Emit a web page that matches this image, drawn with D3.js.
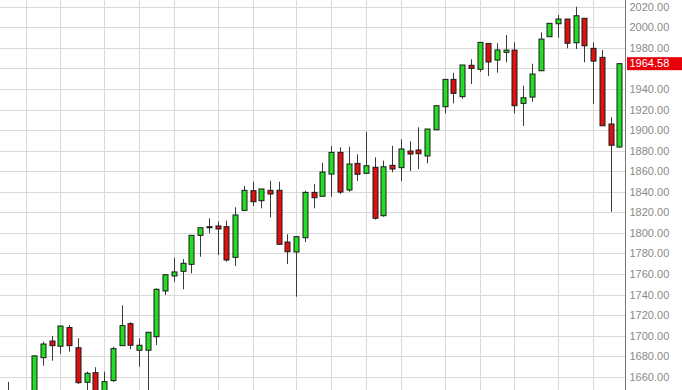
<!DOCTYPE html>
<html>
<head>
<meta charset="utf-8">
<script src="https://d3js.org/d3.v7.min.js"></script>
<style>
 body { margin: 0; background: #fff; }
 svg { display: block; font-family: "Liberation Sans", Arial, sans-serif; }
</style>
</head>
<body>
<svg id="chart" width="682" height="390"></svg>
<script>
 // weekly candles, first week starts Monday 2013-06-17
 var firstWeek = new Date(2013, 5, 17);

 var open  = [1640, 1592, 1609, 1634, 1678.6, 1694.8, 1689.7, 1707.9, 1688.3, 1654.7,
              1664, 1635, 1656.3, 1690.3, 1711.7, 1685.8, 1685.8, 1699, 1743.5, 1758.1,
              1762.6, 1769.4, 1797.6, 1806, 1806.7, 1806, 1776.2, 1821.9, 1841, 1831.3,
              1841.4, 1841.4, 1791.1, 1781.4, 1795.3, 1839.4, 1835.6, 1857.2, 1878.3, 1841.7,
              1867.6, 1857.9, 1863.8, 1816.7, 1865.7, 1863.4, 1879.6, 1880.6, 1874.8, 1900.3,
              1922.7, 1949.3, 1932.5, 1963, 1959.1, 1984.3, 1968.1, 1975.6, 1977.8, 1926,
              1932.1, 1957.7, 1990.8, 2003.4, 2008, 1984.9, 2008.7, 1979.5, 1970.7, 1905.9,
              1883.5];
 var high  = [1655, 1620, 1632, 1681, 1694.2, 1699.7, 1709.6, 1710.4, 1697.5, 1665,
              1669.3, 1665, 1689.3, 1729.6, 1713, 1697.5, 1703.5, 1746.1, 1759.5, 1775.8,
              1774.6, 1797.8, 1805.2, 1814.2, 1811.2, 1811.9, 1824.9, 1845.6, 1849.8, 1842.7,
              1850.7, 1849.8, 1798.6, 1796.3, 1841, 1847.5, 1868.2, 1884.5, 1883.2, 1883.8,
              1876.4, 1898.4, 1873.5, 1870.2, 1884.8, 1891, 1889, 1902.7, 1901, 1923.7,
              1949.3, 1955.8, 1963.3, 1968.8, 1985.3, 1984.3, 1984.4, 1992.4, 1985.3, 1943.1,
              1964.5, 1995, 2003.8, 2011.9, 2008, 2020, 2008.7, 1985.3, 1977.8, 1912.4,
              1964.58];
 var low   = [1578, 1573, 1605, 1632, 1670.8, 1675.7, 1682.2, 1684.4, 1653, 1640,
              1627, 1633, 1655, 1690, 1686.8, 1669.9, 1646, 1690.9, 1739.6, 1752.5,
              1745.1, 1760.7, 1776.8, 1799.6, 1778.5, 1772, 1767.8, 1821.5, 1826.1, 1823.9,
              1815.1, 1788.9, 1769.7, 1737.9, 1791.1, 1823.9, 1835.6, 1835.2, 1837.8, 1840,
              1850.4, 1857.9, 1813, 1815.7, 1858.9, 1850.4, 1860.2, 1862.1, 1867.6, 1900,
              1916.3, 1926, 1930.5, 1944.8, 1956.7, 1952.5, 1955.8, 1965.9, 1916.3, 1903.9,
              1927.5, 1957.7, 1990.8, 1989.8, 1979.5, 1978.8, 1965.9, 1925.3, 1904.2, 1820.6,
              1883];
 var close = [1592, 1606, 1631, 1680.3, 1691.9, 1690.3, 1709.4, 1690.3, 1654.3, 1663.4,
              1633, 1655.3, 1687.4, 1709.8, 1690.7, 1690.7, 1703.3, 1745.1, 1759.3, 1762,
              1770.4, 1797.6, 1805, 1805, 1803.8, 1773.6, 1817.4, 1841.4, 1830.3, 1842.7,
              1837.8, 1788.9, 1781.7, 1796.3, 1839.4, 1834.2, 1859.2, 1878.3, 1839.7, 1867,
              1857, 1865.3, 1814.2, 1864.3, 1862.1, 1881.6, 1876.7, 1877, 1901, 1923.7,
              1949.3, 1935.7, 1963.3, 1960, 1985.3, 1966.2, 1977.9, 1977.8, 1923.7, 1931.4,
              1954.5, 1988.5, 2003.8, 2008, 1984.4, 2011.2, 1982, 1967.1, 1904.2, 1885.2,
              1964.58];
 var priceTicks = [1660, 1680, 1700, 1720, 1740, 1760, 1780, 1800, 1820, 1840,
                   1860, 1880, 1900, 1920, 1940, 1960, 1980, 2000, 2020];

 var weeks = open.map(function (d, i) { return d3.timeDay.offset(firstWeek, 7 * i); });
 var candles = weeks.map(function (w, i) {
     return { week: w, o: open[i], h: high[i], l: low[i], c: close[i] };
 });

 var W = 682, H = 390, axisX = 625.5;
 var svg = d3.select("#chart");

 var x = d3.scaleBand().domain(weeks.map(function (d, i) { return i; }))
           .range([3.7, 623.6]);
 var y = d3.scaleLinear().domain([1660, 2020]).range([376.8, 6.7]);
 var cx = function (i) { return x(i) + x.bandwidth() / 2; };

 // month gridlines: the week whose friday falls in a new month
 var monthWeeks = [];
 weeks.forEach(function (w, i) {
     var fri = d3.timeDay.offset(w, 4), prevFri = d3.timeDay.offset(w, -3);
     if (fri.getMonth() != prevFri.getMonth()) monthWeeks.push(i);
 });

 var grid = svg.append("g");
 grid.selectAll(".hg").data(priceTicks).enter().append("line")
     .attr("x1", 0).attr("x2", axisX)
     .attr("y1", function (d) { return Math.round(y(d)) + 0.5; })
     .attr("y2", function (d) { return Math.round(y(d)) + 0.5; })
     .attr("stroke", "#d9d9d9").attr("stroke-width", 1);
 grid.selectAll(".vg").data(monthWeeks).enter().append("line")
     .attr("x1", function (i) { return Math.round(cx(i)) + 0.5; })
     .attr("x2", function (i) { return Math.round(cx(i)) + 0.5; })
     .attr("y1", 0).attr("y2", H)
     .attr("stroke", "#d9d9d9").attr("stroke-width", 1);

 var g = svg.append("g");
 g.selectAll(".wick").data(candles).enter().append("line")
     .attr("x1", function (d, i) { return Math.round(cx(i)) + 0.5; })
     .attr("x2", function (d, i) { return Math.round(cx(i)) + 0.5; })
     .attr("y1", function (d) { return y(d.h); })
     .attr("y2", function (d) { return y(d.l); })
     .attr("stroke", "#3a3a3a").attr("stroke-width", 1);
 g.selectAll(".body").data(candles).enter().append("rect")
     .attr("x", function (d, i) { return Math.round(cx(i)) - 2; })
     .attr("y", function (d) { return y(Math.max(d.o, d.c)); })
     .attr("width", 5)
     .attr("height", function (d) { return Math.max(1, Math.abs(y(d.o) - y(d.c))); })
     .attr("fill", function (d) { return d.c >= d.o ? "#22dd22" : "#dd1111"; })
     .attr("stroke", "#1a1a1a").attr("stroke-width", 1);

 // right price axis
 var last = close[close.length - 1];
 svg.append("line").attr("x1", axisX).attr("x2", axisX).attr("y1", 0).attr("y2", H)
    .attr("stroke", "#777").attr("stroke-width", 1);
 var axis = svg.append("g").attr("transform", "translate(" + axisX + ",0)")
    .call(d3.axisRight(y).tickValues(priceTicks).tickFormat(d3.format(".2f"))
             .tickSize(0).tickPadding(4));
 axis.select(".domain").remove();
 axis.selectAll("text").attr("fill", "#8a8a8a").attr("font-size", "11px")
     .attr("font-family", "'Liberation Sans', Arial, sans-serif");
 // the label hidden under the last-price tag
 axis.selectAll(".tick").filter(function (d) { return Math.abs(y(d) - y(last)) < 12; })
     .remove();

 // last price tag
 svg.append("rect").attr("x", 627).attr("y", y(last) - 6.5).attr("width", 55).attr("height", 13)
    .attr("fill", "#e8000b");
 svg.append("text").attr("x", 629.5).attr("y", y(last)).attr("dy", "0.34em")
    .attr("fill", "#fff").attr("font-size", "11px")
    .text(d3.format(".2f")(last));
</script>
</body>
</html>
